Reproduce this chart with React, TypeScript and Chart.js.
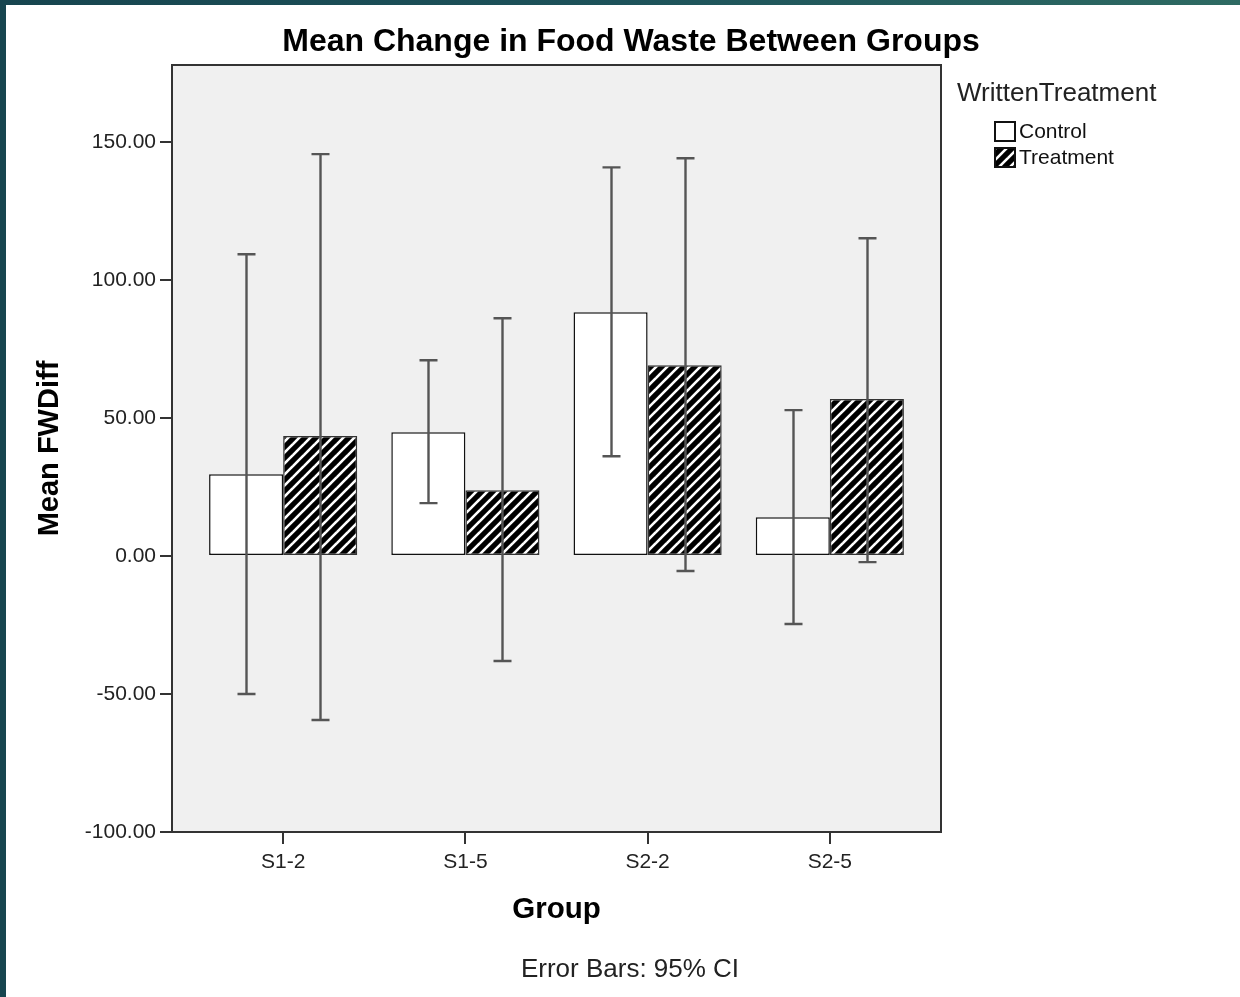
import React, { useEffect, useRef } from "react";
import { Chart, registerables } from "chart.js";

Chart.register(...registerables);

const categories = ["S1-2", "S1-5", "S2-2", "S2-5"];
const seriesNames = ["Control", "Treatment"];
const controlMean = [29.7, 44.9, 88.4, 14.1];
const controlLow = [-50.0, 19.2, 36.2, -24.6];
const controlHigh = [109.4, 71.0, 140.9, 52.9];
const treatmentMean = [43.5, 23.9, 69.2, 56.9];
const treatmentLow = [-59.4, -38.0, -5.4, -2.2];
const treatmentHigh = [145.7, 86.2, 144.2, 115.2];
const yTicks = [-100, -50, 0, 50, 100, 150];

const FONT = "'Liberation Sans', Arial, sans-serif";

function makeHatch(): CanvasPattern | string {
  const s = 11;
  const c = document.createElement("canvas");
  c.width = s;
  c.height = s;
  const g = c.getContext("2d");
  if (!g) return "#000";
  g.fillStyle = "#000";
  g.fillRect(0, 0, s, s);
  g.strokeStyle = "#fff";
  g.lineWidth = 2.6;
  for (let k = -1; k <= 1; k++) {
    g.beginPath();
    g.moveTo(k * s - 2, s + 2);
    g.lineTo(k * s + s + 2, -2);
    g.stroke();
  }
  const p = g.createPattern(c, "repeat");
  return p || "#000";
}

export default function App() {
  const ref = useRef<HTMLCanvasElement | null>(null);

  useEffect(() => {
    const canvas = ref.current;
    if (!canvas) return;
    const hatch = makeHatch();
    const lows = [controlLow, treatmentLow];
    const highs = [controlHigh, treatmentHigh];

    const decor = {
      id: "decor",
      beforeDraw(chart: any) {
        const { ctx, chartArea: a } = chart;
        ctx.save();
        ctx.fillStyle = "#ffffff";
        ctx.fillRect(0, 0, chart.width, chart.height);
        ctx.fillStyle = "#f0f0f0";
        ctx.fillRect(a.left, a.top, a.right - a.left, a.bottom - a.top);
        ctx.restore();
      },
      afterDatasetsDraw(chart: any) {
        const { ctx, chartArea: a, scales } = chart;
        const y = scales.y;
        ctx.save();
        ctx.strokeStyle = "#555";
        ctx.lineWidth = 2.4;
        for (let d = 0; d < 2; d++) {
          const meta = chart.getDatasetMeta(d);
          meta.data.forEach((bar: any, i: number) => {
            const x = Math.round(bar.x) + 0.5;
            const yh = y.getPixelForValue(highs[d][i]);
            const yl = y.getPixelForValue(lows[d][i]);
            ctx.beginPath();
            ctx.moveTo(x, yh);
            ctx.lineTo(x, yl);
            ctx.moveTo(x - 9, yh);
            ctx.lineTo(x + 9, yh);
            ctx.moveTo(x - 9, yl);
            ctx.lineTo(x + 9, yl);
            ctx.stroke();
          });
        }
        ctx.strokeStyle = "#333";
        ctx.lineWidth = 2;
        ctx.strokeRect(a.left, a.top, a.right - a.left, a.bottom - a.top);
        ctx.restore();
      },
      afterDraw(chart: any) {
        const { ctx, chartArea: a } = chart;
        ctx.save();
        ctx.fillStyle = "#000";
        ctx.textBaseline = "middle";
        ctx.textAlign = "center";
        ctx.font = `bold 32px ${FONT}`;
        ctx.fillText("Mean Change in Food Waste Between Groups", 625, 37);
        ctx.font = `bold 29.5px ${FONT}`;
        ctx.fillText("Group", (a.left + a.right) / 2, 905);
        ctx.save();
        ctx.translate(44, (a.top + a.bottom) / 2);
        ctx.rotate(-Math.PI / 2);
        ctx.font = `bold 29px ${FONT}`;
        ctx.fillText("Mean FWDiff", 0, 0);
        ctx.restore();
        ctx.fillStyle = "#222";
        ctx.font = `26px ${FONT}`;
        ctx.fillText("Error Bars: 95% CI", 624, 965);
        // legend
        ctx.textAlign = "left";
        ctx.fillStyle = "#222";
        ctx.font = `26px ${FONT}`;
        ctx.fillText("WrittenTreatment", 951, 89);
        ctx.font = `21px ${FONT}`;
        const fills: any[] = ["#ffffff", hatch];
        seriesNames.forEach((n, k) => {
          const by = 117 + k * 26;
          ctx.fillStyle = fills[k];
          ctx.fillRect(989, by, 20, 19);
          ctx.strokeStyle = "#111";
          ctx.lineWidth = 2;
          ctx.strokeRect(989, by, 20, 19);
          ctx.fillStyle = "#111";
          ctx.fillText(n, 1013, by + 10);
        });
        ctx.restore();
      },
    };

    const chart = new Chart(canvas, {
      type: "bar",
      data: {
        datasets: [
          {
            label: seriesNames[0],
            data: controlMean.map((v, i) => ({ x: i, y: v })),
            backgroundColor: "#ffffff",
            borderColor: "#111",
            borderWidth: 1.5,
            borderSkipped: false,
          },
          {
            label: seriesNames[1],
            data: treatmentMean.map((v, i) => ({ x: i, y: v })),
            backgroundColor: hatch as any,
            borderColor: "#333",
            borderWidth: 1.5,
            borderSkipped: false,
          },
        ],
      },
      options: {
        animation: false,
        responsive: false,
        devicePixelRatio: 1,
        layout: { padding: { left: 0, top: 60, right: 299, bottom: 0 } },
        datasets: { bar: { categoryPercentage: 0.813, barPercentage: 1 } },
        plugins: { legend: { display: false }, tooltip: { enabled: false }, title: { display: false } },
        scales: {
          x: {
            type: "linear",
            min: -0.61,
            max: 3.61,
            offset: false,
            afterBuildTicks: (s: any) => {
              s.ticks = categories.map((_, i) => ({ value: i }));
            },
            afterFit: (s: any) => {
              s.height = 165;
            },
            grid: { offset: false, drawOnChartArea: false, drawTicks: true, tickLength: 12, color: "#333", lineWidth: 2 },
            border: { display: false },
            ticks: {
              autoSkip: false,
              maxRotation: 0,
              padding: 6,
              color: "#222",
              font: { family: FONT, size: 21 },
              callback: (v: any) => categories[Number(v)] ?? "",
            },
          },
          y: {
            min: -100,
            max: 178,
            afterBuildTicks: (s: any) => {
              s.ticks = yTicks.map((v) => ({ value: v }));
            },
            afterFit: (s: any) => {
              s.width = 166;
            },
            grid: { drawOnChartArea: false, drawTicks: true, tickLength: 12, color: "#333", lineWidth: 2 },
            border: { display: false },
            ticks: {
              padding: 4,
              color: "#222",
              font: { family: FONT, size: 21 },
              callback: (v: any) => Number(v).toFixed(2),
            },
          },
        },
      },
      plugins: [decor],
    } as any);

    return () => chart.destroy();
  }, []);

  return (
    <div
      style={{
        position: "fixed",
        left: 0,
        top: 0,
        width: 1240,
        height: 997,
        background: "linear-gradient(90deg, #17454f 0%, #1d525a 50%, #2e6a62 100%)",
      }}
    >
      <canvas
        ref={ref}
        width={1234}
        height={992}
        style={{ position: "absolute", left: 6, top: 5, width: 1234, height: 992, background: "#fff" }}
      />
    </div>
  );
}
